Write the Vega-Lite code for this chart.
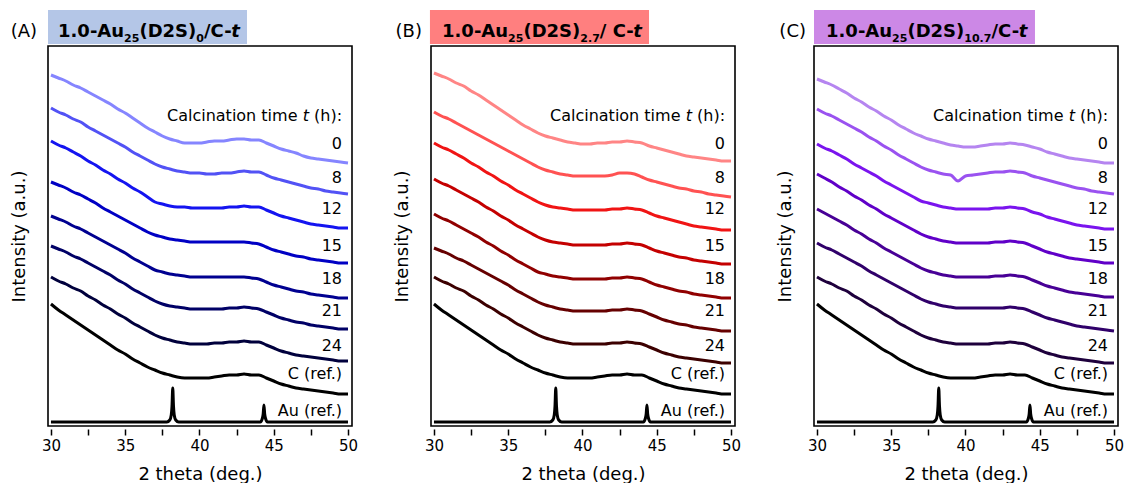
{
"$schema": "https://vega.github.io/schema/vega-lite/v6.json",
"padding": {"left": 9, "top": 9, "right": 0, "bottom": 0},
"config": {"font": "DejaVu Sans", "view": {"stroke": "black", "strokeWidth": 1.6}},
"datasets": {
"all": [
{"p":"A","x":30,"a0":351,"a8":318,"a12":285,"a15":244,"a18":210,"a21":180,"a24":149,"aC":122},
{"p":"A","x":30.5,"a0":348,"a8":314,"a12":281,"a15":241,"a18":207,"a21":177,"a24":145,"aC":116},
{"p":"A","x":31,"a0":345,"a8":311,"a12":278,"a15":238,"a18":204,"a21":174,"a24":142,"aC":111},
{"p":"A","x":31.5,"a0":341,"a8":307,"a12":274,"a15":234,"a18":200,"a21":170,"a24":138,"aC":106},
{"p":"A","x":32,"a0":338,"a8":304,"a12":270,"a15":231,"a18":197,"a21":167,"a24":135,"aC":101},
{"p":"A","x":32.5,"a0":334,"a8":299,"a12":265,"a15":227,"a18":193,"a21":163,"a24":130,"aC":96},
{"p":"A","x":33,"a0":330,"a8":295,"a12":261,"a15":223,"a18":189,"a21":159,"a24":126,"aC":91},
{"p":"A","x":33.5,"a0":326,"a8":291,"a12":256,"a15":218,"a18":185,"a21":155,"a24":121,"aC":86},
{"p":"A","x":34,"a0":322,"a8":287,"a12":252,"a15":214,"a18":181,"a21":151,"a24":117,"aC":81},
{"p":"A","x":34.5,"a0":317,"a8":283,"a12":247,"a15":210,"a18":177,"a21":146,"a24":112,"aC":76},
{"p":"A","x":35,"a0":313,"a8":279,"a12":243,"a15":206,"a18":173,"a21":142,"a24":108,"aC":72},
{"p":"A","x":35.5,"a0":308,"a8":274,"a12":238,"a15":202,"a18":168,"a21":137,"a24":103,"aC":67},
{"p":"A","x":36,"a0":303,"a8":270,"a12":234,"a15":198,"a18":164,"a21":133,"a24":99,"aC":63},
{"p":"A","x":36.5,"a0":298,"a8":266,"a12":229,"a15":194,"a18":160,"a21":129,"a24":95,"aC":59},
{"p":"A","x":37,"a0":294,"a8":262,"a12":224,"a15":191,"a18":156,"a21":125,"a24":91,"aC":56},
{"p":"A","x":37.5,"a0":290,"a8":259,"a12":222,"a15":189,"a18":154,"a21":122,"a24":88,"aC":53},
{"p":"A","x":38,"a0":287,"a8":257,"a12":220,"a15":187,"a18":152,"a21":120,"a24":86,"aC":51},
{"p":"A","x":38.5,"a0":285,"a8":255,"a12":219,"a15":186,"a18":151,"a21":119,"a24":84,"aC":49},
{"p":"A","x":39,"a0":283,"a8":254,"a12":219,"a15":185,"a18":150,"a21":118,"a24":83,"aC":48},
{"p":"A","x":39.5,"a0":283,"a8":253,"a12":218,"a15":184,"a18":149,"a21":117,"a24":82,"aC":48},
{"p":"A","x":40,"a0":283,"a8":253,"a12":218,"a15":184,"a18":149,"a21":117,"a24":82,"aC":48},
{"p":"A","x":40.5,"a0":284,"a8":252,"a12":218,"a15":184,"a18":149,"a21":117,"a24":82,"aC":48},
{"p":"A","x":41,"a0":285,"a8":252,"a12":218,"a15":184,"a18":149,"a21":117,"a24":83,"aC":49},
{"p":"A","x":41.5,"a0":285,"a8":253,"a12":218,"a15":184,"a18":149,"a21":117,"a24":83,"aC":50},
{"p":"A","x":42,"a0":286,"a8":253,"a12":219,"a15":184,"a18":149,"a21":118,"a24":84,"aC":51},
{"p":"A","x":42.5,"a0":287,"a8":254,"a12":219,"a15":184,"a18":149,"a21":118,"a24":84,"aC":51},
{"p":"A","x":43,"a0":287,"a8":255,"a12":220,"a15":184,"a18":149,"a21":119,"a24":85,"aC":52},
{"p":"A","x":43.5,"a0":286,"a8":254,"a12":219,"a15":183,"a18":148,"a21":118,"a24":84,"aC":51},
{"p":"A","x":44,"a0":286,"a8":254,"a12":219,"a15":182,"a18":147,"a21":117,"a24":84,"aC":51},
{"p":"A","x":44.5,"a0":283,"a8":251,"a12":216,"a15":179,"a18":144,"a21":114,"a24":81,"aC":48},
{"p":"A","x":45,"a0":280,"a8":248,"a12":213,"a15":176,"a18":141,"a21":111,"a24":78,"aC":45},
{"p":"A","x":45.5,"a0":277,"a8":246,"a12":210,"a15":174,"a18":139,"a21":108,"a24":75,"aC":42},
{"p":"A","x":46,"a0":275,"a8":244,"a12":208,"a15":172,"a18":137,"a21":106,"a24":73,"aC":40},
{"p":"A","x":46.5,"a0":273,"a8":242,"a12":206,"a15":170,"a18":135,"a21":104,"a24":71,"aC":38},
{"p":"A","x":47,"a0":270,"a8":240,"a12":204,"a15":169,"a18":134,"a21":103,"a24":70,"aC":37},
{"p":"A","x":47.5,"a0":268,"a8":238,"a12":202,"a15":167,"a18":132,"a21":101,"a24":69,"aC":36},
{"p":"A","x":48,"a0":267,"a8":237,"a12":201,"a15":166,"a18":131,"a21":100,"a24":68,"aC":35},
{"p":"A","x":48.5,"a0":266,"a8":235,"a12":200,"a15":165,"a18":130,"a21":99,"a24":67,"aC":34},
{"p":"A","x":49,"a0":265,"a8":234,"a12":199,"a15":164,"a18":129,"a21":98,"a24":66,"aC":33},
{"p":"A","x":49.5,"a0":264,"a8":233,"a12":198,"a15":163,"a18":128,"a21":97,"a24":65,"aC":32},
{"p":"A","x":50,"a0":263,"a8":232,"a12":198,"a15":163,"a18":128,"a21":97,"a24":65,"aC":32},
{"p":"B","x":30,"b0":353,"b8":314,"b12":283,"b15":247,"b18":212,"b21":178,"b24":149,"bC":122},
{"p":"B","x":30.5,"b0":350,"b8":310,"b12":279,"b15":243,"b18":208,"b21":175,"b24":145,"bC":116},
{"p":"B","x":31,"b0":347,"b8":307,"b12":276,"b15":240,"b18":205,"b21":172,"b24":142,"bC":111},
{"p":"B","x":31.5,"b0":343,"b8":303,"b12":272,"b15":236,"b18":201,"b21":168,"b24":138,"bC":106},
{"p":"B","x":32,"b0":340,"b8":299,"b12":268,"b15":232,"b18":197,"b21":165,"b24":135,"bC":101},
{"p":"B","x":32.5,"b0":335,"b8":295,"b12":263,"b15":228,"b18":193,"b21":161,"b24":130,"bC":96},
{"p":"B","x":33,"b0":331,"b8":291,"b12":259,"b15":224,"b18":189,"b21":157,"b24":126,"bC":91},
{"p":"B","x":33.5,"b0":326,"b8":287,"b12":254,"b15":219,"b18":184,"b21":153,"b24":121,"bC":86},
{"p":"B","x":34,"b0":321,"b8":283,"b12":250,"b15":215,"b18":180,"b21":149,"b24":117,"bC":81},
{"p":"B","x":34.5,"b0":316,"b8":279,"b12":245,"b15":210,"b18":175,"b21":145,"b24":112,"bC":76},
{"p":"B","x":35,"b0":311,"b8":275,"b12":241,"b15":206,"b18":171,"b21":141,"b24":108,"bC":72},
{"p":"B","x":35.5,"b0":306,"b8":271,"b12":236,"b15":201,"b18":166,"b21":136,"b24":103,"bC":67},
{"p":"B","x":36,"b0":301,"b8":267,"b12":232,"b15":197,"b18":162,"b21":132,"b24":99,"bC":63},
{"p":"B","x":36.5,"b0":297,"b8":263,"b12":228,"b15":193,"b18":158,"b21":128,"b24":95,"bC":59},
{"p":"B","x":37,"b0":293,"b8":259,"b12":224,"b15":189,"b18":154,"b21":124,"b24":91,"bC":56},
{"p":"B","x":37.5,"b0":290,"b8":256,"b12":221,"b15":186,"b18":152,"b21":121,"b24":88,"bC":53},
{"p":"B","x":38,"b0":288,"b8":254,"b12":219,"b15":184,"b18":150,"b21":119,"b24":86,"bC":51},
{"p":"B","x":38.5,"b0":286,"b8":252,"b12":218,"b15":183,"b18":149,"b21":117,"b24":84,"bC":49},
{"p":"B","x":39,"b0":284,"b8":251,"b12":217,"b15":182,"b18":148,"b21":116,"b24":83,"bC":48},
{"p":"B","x":39.5,"b0":283,"b8":250,"b12":216,"b15":181,"b18":147,"b21":115,"b24":82,"bC":48},
{"p":"B","x":40,"b0":282,"b8":250,"b12":216,"b15":181,"b18":147,"b21":115,"b24":82,"bC":48},
{"p":"B","x":40.5,"b0":282,"b8":250,"b12":216,"b15":181,"b18":147,"b21":115,"b24":82,"bC":48},
{"p":"B","x":41,"b0":283,"b8":250,"b12":216,"b15":181,"b18":147,"b21":115,"b24":82,"bC":49},
{"p":"B","x":41.5,"b0":283,"b8":250,"b12":216,"b15":181,"b18":147,"b21":115,"b24":82,"bC":50},
{"p":"B","x":42,"b0":284,"b8":251,"b12":217,"b15":182,"b18":148,"b21":116,"b24":83,"bC":51},
{"p":"B","x":42.5,"b0":284,"b8":253,"b12":217,"b15":182,"b18":148,"b21":116,"b24":83,"bC":51},
{"p":"B","x":43,"b0":285,"b8":253,"b12":218,"b15":183,"b18":149,"b21":117,"b24":84,"bC":52},
{"p":"B","x":43.5,"b0":284,"b8":252,"b12":217,"b15":182,"b18":148,"b21":116,"b24":83,"bC":51},
{"p":"B","x":44,"b0":283,"b8":249,"b12":216,"b15":181,"b18":147,"b21":115,"b24":82,"bC":51},
{"p":"B","x":44.5,"b0":280,"b8":246,"b12":213,"b15":178,"b18":144,"b21":112,"b24":79,"bC":48},
{"p":"B","x":45,"b0":278,"b8":244,"b12":210,"b15":175,"b18":141,"b21":109,"b24":76,"bC":45},
{"p":"B","x":45.5,"b0":276,"b8":242,"b12":208,"b15":173,"b18":139,"b21":106,"b24":73,"bC":42},
{"p":"B","x":46,"b0":274,"b8":240,"b12":206,"b15":171,"b18":137,"b21":104,"b24":71,"bC":40},
{"p":"B","x":46.5,"b0":272,"b8":238,"b12":204,"b15":169,"b18":135,"b21":102,"b24":69,"bC":38},
{"p":"B","x":47,"b0":270,"b8":237,"b12":202,"b15":168,"b18":134,"b21":101,"b24":68,"bC":37},
{"p":"B","x":47.5,"b0":269,"b8":235,"b12":200,"b15":166,"b18":132,"b21":99,"b24":67,"bC":36},
{"p":"B","x":48,"b0":268,"b8":234,"b12":199,"b15":165,"b18":131,"b21":98,"b24":66,"bC":35},
{"p":"B","x":48.5,"b0":267,"b8":232,"b12":198,"b15":164,"b18":130,"b21":97,"b24":65,"bC":34},
{"p":"B","x":49,"b0":266,"b8":231,"b12":197,"b15":163,"b18":129,"b21":96,"b24":64,"bC":33},
{"p":"B","x":49.5,"b0":265,"b8":230,"b12":196,"b15":162,"b18":128,"b21":95,"b24":63,"bC":32},
{"p":"B","x":50,"b0":265,"b8":229,"b12":196,"b15":162,"b18":128,"b21":95,"b24":63,"bC":32},
{"p":"C","x":30,"c0":347,"c8":317,"c12":282,"c15":252,"c18":217,"c21":183,"c24":149,"cC":122},
{"p":"C","x":30.5,"c0":344,"c8":313,"c12":278,"c15":248,"c18":213,"c21":179,"c24":145,"cC":116},
{"p":"C","x":31,"c0":341,"c8":310,"c12":275,"c15":244,"c18":209,"c21":176,"c24":142,"cC":111},
{"p":"C","x":31.5,"c0":337,"c8":306,"c12":271,"c15":239,"c18":205,"c21":172,"c24":138,"cC":106},
{"p":"C","x":32,"c0":333,"c8":302,"c12":267,"c15":235,"c18":201,"c21":168,"c24":135,"cC":101},
{"p":"C","x":32.5,"c0":328,"c8":298,"c12":262,"c15":230,"c18":196,"c21":164,"c24":130,"cC":96},
{"p":"C","x":33,"c0":324,"c8":294,"c12":258,"c15":226,"c18":192,"c21":160,"c24":126,"cC":91},
{"p":"C","x":33.5,"c0":319,"c8":289,"c12":254,"c15":221,"c18":187,"c21":155,"c24":121,"cC":86},
{"p":"C","x":34,"c0":315,"c8":285,"c12":250,"c15":217,"c18":183,"c21":151,"c24":117,"cC":81},
{"p":"C","x":34.5,"c0":310,"c8":280,"c12":245,"c15":212,"c18":178,"c21":147,"c24":112,"cC":76},
{"p":"C","x":35,"c0":306,"c8":276,"c12":241,"c15":208,"c18":174,"c21":143,"c24":108,"cC":72},
{"p":"C","x":35.5,"c0":301,"c8":271,"c12":237,"c15":204,"c18":170,"c21":139,"c24":103,"cC":67},
{"p":"C","x":36,"c0":297,"c8":267,"c12":233,"c15":200,"c18":166,"c21":135,"c24":99,"cC":63},
{"p":"C","x":36.5,"c0":293,"c8":263,"c12":229,"c15":196,"c18":162,"c21":131,"c24":95,"cC":59},
{"p":"C","x":37,"c0":290,"c8":259,"c12":225,"c15":192,"c18":158,"c21":127,"c24":91,"cC":56},
{"p":"C","x":37.5,"c0":287,"c8":256,"c12":223,"c15":189,"c18":155,"c21":124,"c24":88,"cC":53},
{"p":"C","x":38,"c0":285,"c8":254,"c12":221,"c15":187,"c18":153,"c21":122,"c24":86,"cC":51},
{"p":"C","x":38.5,"c0":283,"c8":252,"c12":219,"c15":185,"c18":151,"c21":120,"c24":84,"cC":49},
{"p":"C","x":39,"c0":281,"c8":251,"c12":218,"c15":184,"c18":150,"c21":119,"c24":83,"cC":48},
{"p":"C","x":39.5,"c0":280,"c8":245,"c12":217,"c15":183,"c18":149,"c21":118,"c24":82,"cC":48},
{"p":"C","x":40,"c0":279,"c8":250,"c12":217,"c15":183,"c18":149,"c21":118,"c24":82,"cC":48},
{"p":"C","x":40.5,"c0":279,"c8":251,"c12":217,"c15":183,"c18":149,"c21":118,"c24":82,"cC":48},
{"p":"C","x":41,"c0":280,"c8":252,"c12":217,"c15":183,"c18":149,"c21":118,"c24":82,"cC":49},
{"p":"C","x":41.5,"c0":281,"c8":253,"c12":217,"c15":183,"c18":149,"c21":118,"c24":82,"cC":50},
{"p":"C","x":42,"c0":282,"c8":254,"c12":218,"c15":184,"c18":150,"c21":118,"c24":83,"cC":51},
{"p":"C","x":42.5,"c0":282,"c8":254,"c12":218,"c15":184,"c18":150,"c21":118,"c24":83,"cC":51},
{"p":"C","x":43,"c0":283,"c8":255,"c12":219,"c15":185,"c18":151,"c21":119,"c24":84,"cC":52},
{"p":"C","x":43.5,"c0":282,"c8":254,"c12":218,"c15":184,"c18":150,"c21":118,"c24":83,"cC":51},
{"p":"C","x":44,"c0":281,"c8":253,"c12":217,"c15":183,"c18":149,"c21":117,"c24":82,"cC":51},
{"p":"C","x":44.5,"c0":279,"c8":250,"c12":214,"c15":180,"c18":146,"c21":114,"c24":79,"cC":48},
{"p":"C","x":45,"c0":277,"c8":248,"c12":212,"c15":177,"c18":143,"c21":111,"c24":76,"cC":45},
{"p":"C","x":45.5,"c0":274,"c8":246,"c12":209,"c15":174,"c18":140,"c21":108,"c24":73,"cC":42},
{"p":"C","x":46,"c0":272,"c8":244,"c12":207,"c15":172,"c18":138,"c21":106,"c24":71,"cC":40},
{"p":"C","x":46.5,"c0":270,"c8":242,"c12":205,"c15":170,"c18":136,"c21":104,"c24":69,"cC":38},
{"p":"C","x":47,"c0":268,"c8":240,"c12":203,"c15":168,"c18":134,"c21":102,"c24":68,"cC":37},
{"p":"C","x":47.5,"c0":267,"c8":238,"c12":201,"c15":167,"c18":133,"c21":100,"c24":67,"cC":36},
{"p":"C","x":48,"c0":266,"c8":237,"c12":200,"c15":166,"c18":132,"c21":99,"c24":66,"cC":35},
{"p":"C","x":48.5,"c0":265,"c8":235,"c12":199,"c15":165,"c18":131,"c21":98,"c24":65,"cC":34},
{"p":"C","x":49,"c0":264,"c8":234,"c12":198,"c15":164,"c18":130,"c21":97,"c24":64,"cC":33},
{"p":"C","x":49.5,"c0":263,"c8":233,"c12":197,"c15":163,"c18":129,"c21":96,"c24":63,"cC":32},
{"p":"C","x":50,"c0":263,"c8":232,"c12":197,"c15":163,"c18":129,"c21":95,"c24":63,"cC":32},
{"p":"A","x":30,"au":4},{"p":"A","x":37.8,"au":4},{"p":"A","x":38.0,"au":6},{"p":"A","x":38.1,"au":11},{"p":"A","x":38.15,"au":20},{"p":"A","x":38.2,"au":38},{"p":"A","x":38.25,"au":20},{"p":"A","x":38.3,"au":11},{"p":"A","x":38.4,"au":6},{"p":"A","x":38.6,"au":4},{"p":"A","x":44.1,"au":4},{"p":"A","x":44.22,"au":7},{"p":"A","x":44.29,"au":12},{"p":"A","x":44.34,"au":21},{"p":"A","x":44.39,"au":12},{"p":"A","x":44.46,"au":7},{"p":"A","x":44.58,"au":4},{"p":"A","x":50,"au":4},
{"p":"B","x":30,"au":4},{"p":"B","x":37.8,"au":4},{"p":"B","x":38.0,"au":6},{"p":"B","x":38.1,"au":11},{"p":"B","x":38.15,"au":20},{"p":"B","x":38.2,"au":38},{"p":"B","x":38.25,"au":20},{"p":"B","x":38.3,"au":11},{"p":"B","x":38.4,"au":6},{"p":"B","x":38.6,"au":4},{"p":"B","x":44.1,"au":4},{"p":"B","x":44.22,"au":7},{"p":"B","x":44.29,"au":12},{"p":"B","x":44.34,"au":21},{"p":"B","x":44.39,"au":12},{"p":"B","x":44.46,"au":7},{"p":"B","x":44.58,"au":4},{"p":"B","x":50,"au":4},
{"p":"C","x":30,"au":4},{"p":"C","x":37.8,"au":4},{"p":"C","x":38.0,"au":6},{"p":"C","x":38.1,"au":11},{"p":"C","x":38.15,"au":20},{"p":"C","x":38.2,"au":38},{"p":"C","x":38.25,"au":20},{"p":"C","x":38.3,"au":11},{"p":"C","x":38.4,"au":6},{"p":"C","x":38.6,"au":4},{"p":"C","x":44.1,"au":4},{"p":"C","x":44.22,"au":7},{"p":"C","x":44.29,"au":12},{"p":"C","x":44.34,"au":21},{"p":"C","x":44.39,"au":12},{"p":"C","x":44.46,"au":7},{"p":"C","x":44.58,"au":4},{"p":"C","x":50,"au":4},
{"p":"A","k":"box","x":29.8,"x2":43.2,"y":382,"y2":416},
{"p":"B","k":"box","x":29.73,"x2":44.48,"y":382,"y2":416},
{"p":"C","k":"box","x":29.8,"x2":44.68,"y":382,"y2":416},
{"p":"A","k":"pl","x":29.06,"y":389,"t":"(A)"},
{"p":"B","k":"pl","x":29.19,"y":389,"t":"(B)"},
{"p":"C","k":"pl","x":29.26,"y":389,"t":"(C)"},
{"p":"A","k":"tb","x":30.473,"y":389,"t":"1.0-Au"},
{"p":"A","k":"ts","x":34.925,"y":384,"t":"25"},
{"p":"A","k":"tb","x":35.955,"y":389,"t":"(D2S)"},
{"p":"A","k":"ts","x":39.787,"y":384,"t":"0"},
{"p":"A","k":"tb","x":40.305,"y":389,"t":"/C-"},
{"p":"A","k":"ti","x":42.143,"y":389,"t":"t"},
{"p":"B","k":"tb","x":30.541,"y":389,"t":"1.0-Au"},
{"p":"B","k":"ts","x":34.992,"y":384,"t":"25"},
{"p":"B","k":"tb","x":36.022,"y":389,"t":"(D2S)"},
{"p":"B","k":"ts","x":39.854,"y":384,"t":"2.7"},
{"p":"B","k":"tb","x":41.167,"y":389,"t":"/ C-"},
{"p":"B","k":"ti","x":43.423,"y":389,"t":"t"},
{"p":"C","k":"tb","x":30.608,"y":389,"t":"1.0-Au"},
{"p":"C","k":"ts","x":35.059,"y":384,"t":"25"},
{"p":"C","k":"tb","x":36.09,"y":389,"t":"(D2S)"},
{"p":"C","k":"ts","x":39.921,"y":384,"t":"10.7"},
{"p":"C","k":"tb","x":41.753,"y":389,"t":"/C-"},
{"p":"C","k":"ti","x":43.591,"y":389,"t":"t"},
{"p":"A","k":"lab","x":46.6,"y":310,"t":"Calcination time"},
{"p":"A","k":"it","x":47.37,"y":310,"t":"t"},
{"p":"A","k":"lab","x":49.6,"y":310,"t":"(h):"},
{"p":"A","k":"lab","x":49.6,"y":282,"t":"0"},
{"p":"A","k":"lab","x":49.6,"y":248,"t":"8"},
{"p":"A","k":"lab","x":49.6,"y":217,"t":"12"},
{"p":"A","k":"lab","x":49.6,"y":180,"t":"15"},
{"p":"A","k":"lab","x":49.6,"y":147,"t":"18"},
{"p":"A","k":"lab","x":49.6,"y":115,"t":"21"},
{"p":"A","k":"lab","x":49.6,"y":80,"t":"24"},
{"p":"A","k":"lab","x":49.6,"y":52,"t":"C (ref.)"},
{"p":"A","k":"lab","x":49.6,"y":15,"t":"Au (ref.)"},
{"p":"B","k":"lab","x":46.6,"y":310,"t":"Calcination time"},
{"p":"B","k":"it","x":47.37,"y":310,"t":"t"},
{"p":"B","k":"lab","x":49.6,"y":310,"t":"(h):"},
{"p":"B","k":"lab","x":49.6,"y":282,"t":"0"},
{"p":"B","k":"lab","x":49.6,"y":248,"t":"8"},
{"p":"B","k":"lab","x":49.6,"y":217,"t":"12"},
{"p":"B","k":"lab","x":49.6,"y":180,"t":"15"},
{"p":"B","k":"lab","x":49.6,"y":147,"t":"18"},
{"p":"B","k":"lab","x":49.6,"y":115,"t":"21"},
{"p":"B","k":"lab","x":49.6,"y":80,"t":"24"},
{"p":"B","k":"lab","x":49.6,"y":52,"t":"C (ref.)"},
{"p":"B","k":"lab","x":49.6,"y":15,"t":"Au (ref.)"},
{"p":"C","k":"lab","x":46.6,"y":310,"t":"Calcination time"},
{"p":"C","k":"it","x":47.37,"y":310,"t":"t"},
{"p":"C","k":"lab","x":49.6,"y":310,"t":"(h):"},
{"p":"C","k":"lab","x":49.6,"y":282,"t":"0"},
{"p":"C","k":"lab","x":49.6,"y":248,"t":"8"},
{"p":"C","k":"lab","x":49.6,"y":217,"t":"12"},
{"p":"C","k":"lab","x":49.6,"y":180,"t":"15"},
{"p":"C","k":"lab","x":49.6,"y":147,"t":"18"},
{"p":"C","k":"lab","x":49.6,"y":115,"t":"21"},
{"p":"C","k":"lab","x":49.6,"y":80,"t":"24"},
{"p":"C","k":"lab","x":49.6,"y":52,"t":"C (ref.)"},
{"p":"C","k":"lab","x":49.6,"y":15,"t":"Au (ref.)"}
]
},
"data": {"name": "all"},
"facet": {"column": {"field": "p", "type": "nominal", "title": null, "header": {"labels": false, "title": null}}},
"spacing": 37,
"resolve": {"axis": {"y": "independent"}},
"spec": {
"width": 304,
"height": 380,
"encoding": {
"x": {"field": "x", "type": "quantitative", "scale": {"domain": [29.8, 50.27], "nice": false, "zero": false},
"axis": {"title": "2 theta (deg.)", "values": [30, 32.5, 35, 37.5, 40, 42.5, 45, 47.5, 50], "labelExpr": "datum.value % 5 == 0 ? datum.label : ''", "labelOverlap": false, "labelFlush": false, "tickSize": 6, "tickWidth": 1.5, "tickColor": "black", "domain": false, "grid": false, "labelFontSize": 15, "labelColor": "black", "labelPadding": 3, "titleFontSize": 18, "titleFontWeight": "normal", "titleColor": "black", "titlePadding": 12}},
"y": {"field": "y", "type": "quantitative", "scale": {"domain": [0, 380], "nice": false, "zero": false},
"axis": {"title": "Intensity (a.u.)", "labels": false, "ticks": false, "domain": false, "grid": false, "titleFontSize": 18, "titleFontWeight": "normal", "titleColor": "black", "titlePadding": 20}}
},
"layer": [
{"transform": [{"filter": "datum.k == 'box'"}], "mark": {"type": "rect"},
"encoding": {"x2": {"field": "x2"}, "y2": {"field": "y2"}, "fill": {"field": "p", "type": "nominal", "scale": {"domain": ["A", "B", "C"], "range": ["#b4c6e7", "#ff7f7f", "#cc88e6"]}, "legend": null}}},
{"transform": [{"filter": "!datum.k"}, {"fold": ["a0","a8","a12","a15","a18","a21","a24","aC","b0","b8","b12","b15","b18","b21","b24","bC","c0","c8","c12","c15","c18","c21","c24","cC","au"], "as": ["key", "y"]}, {"filter": "isValid(datum.y)"}],
"mark": {"type": "line", "strokeWidth": 3, "interpolate": "monotone"},
"encoding": {"color": {"field": "key", "type": "nominal", "legend": null, "scale": {
"domain": ["a0","a8","a12","a15","a18","a21","a24","aC","b0","b8","b12","b15","b18","b21","b24","bC","c0","c8","c12","c15","c18","c21","c24","cC","au"],
"range": ["#8585ff","#5252f5","#1414f0","#0000c4","#000090","#000066","#00003c","#000000","#ff8585","#ff5252","#f01414","#c40000","#900000","#660000","#3c0000","#000000","#b585f0","#9a52f0","#7a14ee","#6000c8","#480096","#30006a","#1e003c","#000000","#000000"]}}}},
{"transform": [{"filter": "datum.k == 'pl'"}], "mark": {"type": "text", "align": "right", "baseline": "alphabetic", "fontSize": 18, "color": "black"}, "encoding": {"text": {"field": "t"}}},
{"transform": [{"filter": "datum.k == 'tb'"}], "mark": {"type": "text", "align": "left", "baseline": "alphabetic", "fontSize": 18, "fontWeight": "bold", "color": "black"}, "encoding": {"text": {"field": "t"}}},
{"transform": [{"filter": "datum.k == 'ts'"}], "mark": {"type": "text", "align": "left", "baseline": "alphabetic", "fontSize": 11, "fontWeight": "bold", "color": "black"}, "encoding": {"text": {"field": "t"}}},
{"transform": [{"filter": "datum.k == 'ti'"}], "mark": {"type": "text", "align": "left", "baseline": "alphabetic", "fontSize": 18, "fontWeight": "bold", "fontStyle": "italic", "color": "black"}, "encoding": {"text": {"field": "t"}}},
{"transform": [{"filter": "datum.k == 'lab'"}], "mark": {"type": "text", "align": "right", "baseline": "middle", "fontSize": 16, "color": "black"}, "encoding": {"text": {"field": "t"}}},
{"transform": [{"filter": "datum.k == 'it'"}], "mark": {"type": "text", "align": "right", "baseline": "middle", "fontSize": 16, "fontStyle": "italic", "color": "black"}, "encoding": {"text": {"field": "t"}}}
]
}
}
